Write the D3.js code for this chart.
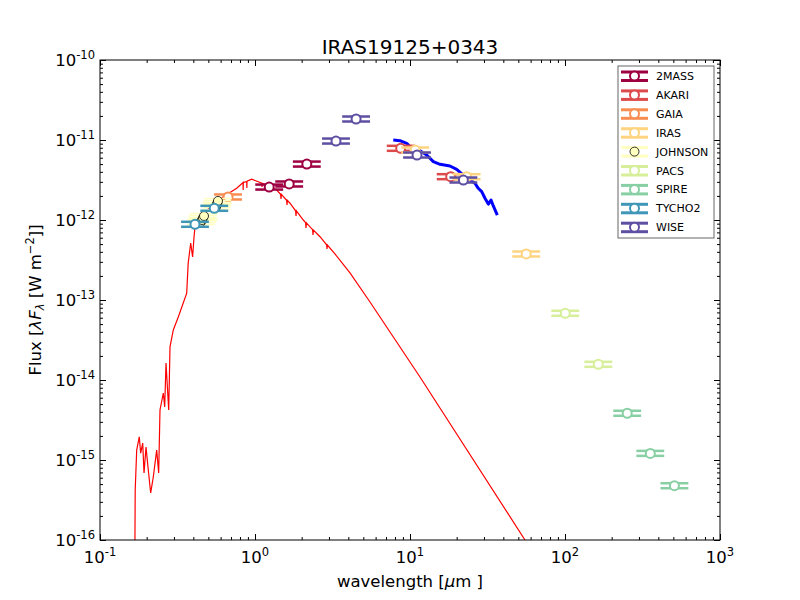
<!DOCTYPE html>
<html>
<head>
<meta charset="utf-8">
<script src="https://cdn.jsdelivr.net/npm/d3@7"></script>
<style>
  body { margin: 0; background: #fff; }
  text { font-family: "DejaVu Sans", sans-serif; }
</style>
</head>
<body>
<div id="chart"></div>
<script>
// Chart data: wavelength in micron, flux (lambda F_lambda) in W m^-2
var bands = ["2MASS", "AKARI", "GAIA", "IRAS", "JOHNSON", "PACS", "SPIRE", "TYCHO2", "WISE"];
var bandColors = ["#9e0142", "#dc4a4c", "#f88d52", "#fed481", "#ffffbf", "#d7ef9b", "#88d0a4", "#3f96b7", "#5e4fa2"];

var wave2mass = [1.235, 1.662, 2.159];
var flux2mass = [2.58e-12, 2.82e-12, 5.0e-12];
var waveAkari = [8.71, 18.3];
var fluxAkari = [7.87e-12, 3.48e-12];
var waveGaia = [0.67];
var fluxGaia = [1.94e-12];
var waveIras = [10.8, 23.2, 56.2];
var fluxIras = [7.5e-12, 3.48e-12, 3.76e-13];
var waveJohnson = [0.4483, 0.4550, 0.4618, 0.4688, 0.560, 0.566, 0.572, 0.577];
var fluxJohnson = [9.44e-13, 1.0e-12, 1.059e-12, 1.122e-12, 1.45e-12, 1.54e-12, 1.63e-12, 1.73e-12];
var wavePacs = [100.4, 164];
var fluxPacs = [6.82e-14, 1.57e-14];
var waveSpire = [252, 355, 508];
var fluxSpire = [3.84e-15, 1.21e-15, 4.77e-16];
var waveTycho = [0.41, 0.546];
var fluxTycho = [8.84e-13, 1.40e-12];
var waveWise = [3.33, 4.49, 11.1, 22.1];
var fluxWise = [9.7e-12, 1.83e-11, 6.49e-12, 3.16e-12];

// stellar model (red)
var modelWave = [0.1670, 0.1687, 0.1725, 0.1792, 0.1830, 0.1886, 0.1923, 0.1981, 0.2040, 0.2123,
  0.2207, 0.2321, 0.2391, 0.2438, 0.2561, 0.2615, 0.2666, 0.2775, 0.2829, 0.2971,
  0.3200, 0.3626, 0.3707, 0.3848, 0.3958, 0.4042, 0.4102, 0.4638, 0.536, 0.6245,
  0.7619, 0.837, 0.839, 0.841, 0.884, 0.886, 0.888, 0.9521, 1.050,
  1.103, 1.1097, 1.1164, 1.190, 1.261, 1.2684, 1.276, 1.380,
  1.463, 1.4718, 1.481, 1.599, 1.6088, 1.618, 1.682,
  1.828, 1.8389, 1.850, 2.049, 2.121, 2.1333, 2.146,
  2.353, 2.3673, 2.381, 2.627, 2.897, 2.9139, 2.931,
  3.28, 4.10, 5.52, 7.43, 11.6, 55.2, 70];
var modelFlux = [1e-17, 4.22e-16, 1.33e-15, 1.95e-15, 1.22e-15, 1.63e-15, 6.88e-16, 1.45e-15, 8.18e-16, 3.87e-16,
  6.13e-16, 1.33e-15, 6.88e-16, 4.22e-15, 6.88e-15, 4.60e-15, 1.63e-14, 4.22e-15, 2.59e-14, 4.22e-14,
  6.13e-14, 1.22e-13, 2.90e-13, 5.16e-13, 3.45e-13, 6.13e-13, 8.24e-13, 1.21e-12, 1.54e-12, 1.95e-12,
  2.49e-12, 2.94e-12, 2.37e-12, 2.96e-12, 3.01e-12, 2.51e-12, 3.05e-12, 3.23e-12, 3.01e-12,
  2.884e-12, 2.585e-12, 2.88e-12, 2.74e-12, 2.57e-12, 2.239e-12, 2.565e-12, 2.37e-12,
  2.095e-12, 1.83e-12, 2.09e-12, 1.763e-12, 1.54e-12, 1.755e-12, 1.62e-12,
  1.303e-12, 1.122e-12, 1.30e-12, 1.0e-12, 9.25e-13, 7.94e-13, 9.2e-13,
  7.56e-13, 6.49e-13, 7.5e-13, 6.18e-13, 4.90e-13, 4.34e-13, 4.87e-13,
  3.76e-13, 2.18e-13, 9.44e-14, 3.98e-14, 1.09e-14, 1.0e-16, 4.9e-17];

// mid-infrared spectrum (blue)
var specWave = [7.80, 8.62, 9.52, 10.26, 11.60, 12.82, 14.14, 15.62, 18.11, 20.01,
  22.08, 24.38, 26.25, 27.58, 29.01, 30.47, 32.01, 33.32, 34.47, 36.58];
var specFlux = [1.0e-11, 9.80e-12, 9.10e-12, 7.87e-12, 7.35e-12, 6.49e-12, 5.36e-12, 4.97e-12, 4.73e-12, 4.30e-12,
  3.65e-12, 3.16e-12, 2.88e-12, 2.49e-12, 2.26e-12, 1.87e-12, 1.58e-12, 1.78e-12, 1.50e-12, 1.15e-12];

var xMajor = [0.1, 1, 10, 100, 1000];
var xMajorExp = ["-1", "0", "1", "2", "3"];
var yMajor = [1e-16, 1e-15, 1e-14, 1e-13, 1e-12, 1e-11, 1e-10];
var yMajorExp = ["-16", "-15", "-14", "-13", "-12", "-11", "-10"];

// ---- layout
var svgWidth = 800;
var svgHeight = 600;
var margin = { top: 60, right: 80, bottom: 60, left: 100 };
var chartWidth = svgWidth - margin.left - margin.right;
var chartHeight = svgHeight - margin.top - margin.bottom;

var svg = d3.select("#chart")
  .append("svg")
  .attr("width", svgWidth)
  .attr("height", svgHeight);

var chartGroup = svg.append("g")
  .attr("transform", `translate(${margin.left}, ${margin.top})`);

var x = d3.scaleLog().domain([0.1, 1000]).range([0, chartWidth]);
var y = d3.scaleLog().domain([1e-16, 1e-10]).range([chartHeight, 0]);

chartGroup.append("clipPath").attr("id", "plotClip")
  .append("rect").attr("width", chartWidth).attr("height", chartHeight);

// ---- lines
var line = d3.line()
  .x(d => x(d[0]))
  .y(d => y(d[1]));

chartGroup.append("path")
  .datum(modelWave.map((w, i) => [w, modelFlux[i]]))
  .attr("clip-path", "url(#plotClip)")
  .attr("fill", "none")
  .attr("stroke", "#ff0000")
  .attr("stroke-width", 1.2)
  .attr("d", line);

chartGroup.append("path")
  .datum(specWave.map((w, i) => [w, specFlux[i]]))
  .attr("clip-path", "url(#plotClip)")
  .attr("fill", "none")
  .attr("stroke", "#0000ff")
  .attr("stroke-width", 3)
  .attr("stroke-linejoin", "round")
  .attr("d", line);

// ---- photometry
var bandWaves = [wave2mass, waveAkari, waveGaia, waveIras, waveJohnson, wavePacs, waveSpire, waveTycho, waveWise];
var bandFluxes = [flux2mass, fluxAkari, fluxGaia, fluxIras, fluxJohnson, fluxPacs, fluxSpire, fluxTycho, fluxWise];
var barFactor = 1.23;   // half width of the wavelength bars
var capGap = 2.5;       // px offset of the flux caps

bands.forEach(function(band, b) {
  var color = bandColors[b];
  var isJohnson = band === "JOHNSON";
  var pts = bandWaves[b].map((w, i) => ({ w: w, f: bandFluxes[b][i] }));
  var g = chartGroup.append("g").attr("class", "band");
  pts.forEach(function(d) {
    [-capGap, capGap].forEach(function(off) {
      g.append("line")
        .attr("x1", x(d.w / barFactor))
        .attr("x2", x(d.w * barFactor))
        .attr("y1", y(d.f) + off)
        .attr("y2", y(d.f) + off)
        .attr("stroke", color)
        .attr("stroke-width", isJohnson ? 1.5 : 2.5);
    });
  });
  g.selectAll("circle")
    .data(pts)
    .enter()
    .append("circle")
    .attr("cx", d => x(d.w))
    .attr("cy", d => y(d.f))
    .attr("r", 4.5)
    .attr("fill", isJohnson ? color : "#fff")
    .attr("stroke", isJohnson ? "#000" : color)
    .attr("stroke-width", isJohnson ? 0.8 : 2);
});

// ---- axes (ticks inside on all four sides)
var xMinor = x.ticks().filter(t => xMajor.indexOf(t) < 0);
var yMinor = y.ticks().filter(t => yMajor.indexOf(t) < 0);

function addAxis(axis, tx, ty) {
  var g = chartGroup.append("g")
    .attr("transform", `translate(${tx}, ${ty})`)
    .call(axis);
  g.select(".domain").remove();
  g.selectAll("line").attr("stroke", "#000");
}
addAxis(d3.axisBottom(x).tickValues(xMinor).tickSize(-3).tickFormat(""), 0, chartHeight);
addAxis(d3.axisBottom(x).tickValues(xMajor).tickSize(-6).tickFormat(""), 0, chartHeight);
addAxis(d3.axisTop(x).tickValues(xMinor).tickSize(-3).tickFormat(""), 0, 0);
addAxis(d3.axisTop(x).tickValues(xMajor).tickSize(-6).tickFormat(""), 0, 0);
addAxis(d3.axisLeft(y).tickValues(yMinor).tickSize(-3).tickFormat(""), 0, 0);
addAxis(d3.axisLeft(y).tickValues(yMajor).tickSize(-6).tickFormat(""), 0, 0);
addAxis(d3.axisRight(y).tickValues(yMinor).tickSize(-3).tickFormat(""), chartWidth, 0);
addAxis(d3.axisRight(y).tickValues(yMajor).tickSize(-6).tickFormat(""), chartWidth, 0);

chartGroup.append("rect")
  .attr("width", chartWidth)
  .attr("height", chartHeight)
  .attr("fill", "none")
  .attr("stroke", "#000")
  .attr("stroke-width", 1);

// tick labels
xMajor.forEach(function(v, i) {
  var t = chartGroup.append("text")
    .attr("x", x(v))
    .attr("y", chartHeight + 23)
    .attr("text-anchor", "middle")
    .attr("font-size", 16.5);
  t.append("tspan").text("10");
  t.append("tspan").attr("dy", -7).attr("font-size", 11.5).text(xMajorExp[i]);
});

yMajor.forEach(function(v, i) {
  var t = chartGroup.append("text")
    .attr("x", -5)
    .attr("y", y(v) + 6)
    .attr("text-anchor", "end")
    .attr("font-size", 16.5);
  t.append("tspan").text("10");
  t.append("tspan").attr("dy", -7).attr("font-size", 11.5).text(yMajorExp[i]);
});

// title and axis labels
svg.append("text")
  .attr("x", margin.left + chartWidth / 2)
  .attr("y", 54)
  .attr("text-anchor", "middle")
  .attr("font-size", 20)
  .text("IRAS19125+0343");

var xLabel = svg.append("text")
  .attr("x", margin.left + chartWidth / 2)
  .attr("y", 587)
  .attr("text-anchor", "middle")
  .attr("font-size", 16.5);
xLabel.append("tspan").text("wavelength [");
xLabel.append("tspan").attr("font-style", "italic").text("μ");
xLabel.append("tspan").text("m ]");

var yLabel = svg.append("text")
  .attr("transform", `translate(41, ${margin.top + chartHeight / 2}) rotate(-90)`)
  .attr("text-anchor", "middle")
  .attr("font-size", 16.5);
yLabel.append("tspan").text("Flux [");
yLabel.append("tspan").attr("font-style", "italic").text("λF");
yLabel.append("tspan").attr("font-style", "italic").attr("font-size", 11.5).attr("dy", 3).text("λ");
yLabel.append("tspan").attr("dy", -3).text(" [W  m");
yLabel.append("tspan").attr("font-size", 11.5).attr("dy", -7).text("−2");
yLabel.append("tspan").attr("dy", 7).text("]]");

// ---- legend
var legend = svg.append("g").attr("transform", "translate(618, 66)");
legend.append("rect")
  .attr("width", 96)
  .attr("height", 172)
  .attr("fill", "#fff")
  .attr("stroke", "#666")
  .attr("stroke-width", 1);

bands.forEach(function(band, b) {
  var color = bandColors[b];
  var isJohnson = band === "JOHNSON";
  var row = legend.append("g").attr("transform", `translate(0, ${10 + b * 18.9})`);
  [-4, 4.5].forEach(function(off) {
    row.append("line")
      .attr("x1", 3).attr("x2", 30)
      .attr("y1", off).attr("y2", off)
      .attr("stroke", color)
      .attr("stroke-width", 3);
  });
  row.append("line")
    .attr("x1", 16.5).attr("x2", 16.5)
    .attr("y1", -4).attr("y2", 4.5)
    .attr("stroke", color)
    .attr("stroke-width", 2);
  row.append("circle")
    .attr("cx", 16.5)
    .attr("cy", 0)
    .attr("r", 4.5)
    .attr("fill", isJohnson ? color : "#fff")
    .attr("stroke", isJohnson ? "#000" : color)
    .attr("stroke-width", isJohnson ? 0.8 : 2);
  row.append("text")
    .attr("x", 38)
    .attr("y", 4)
    .attr("font-size", 11)
    .text(band);
});
</script>
</body>
</html>
